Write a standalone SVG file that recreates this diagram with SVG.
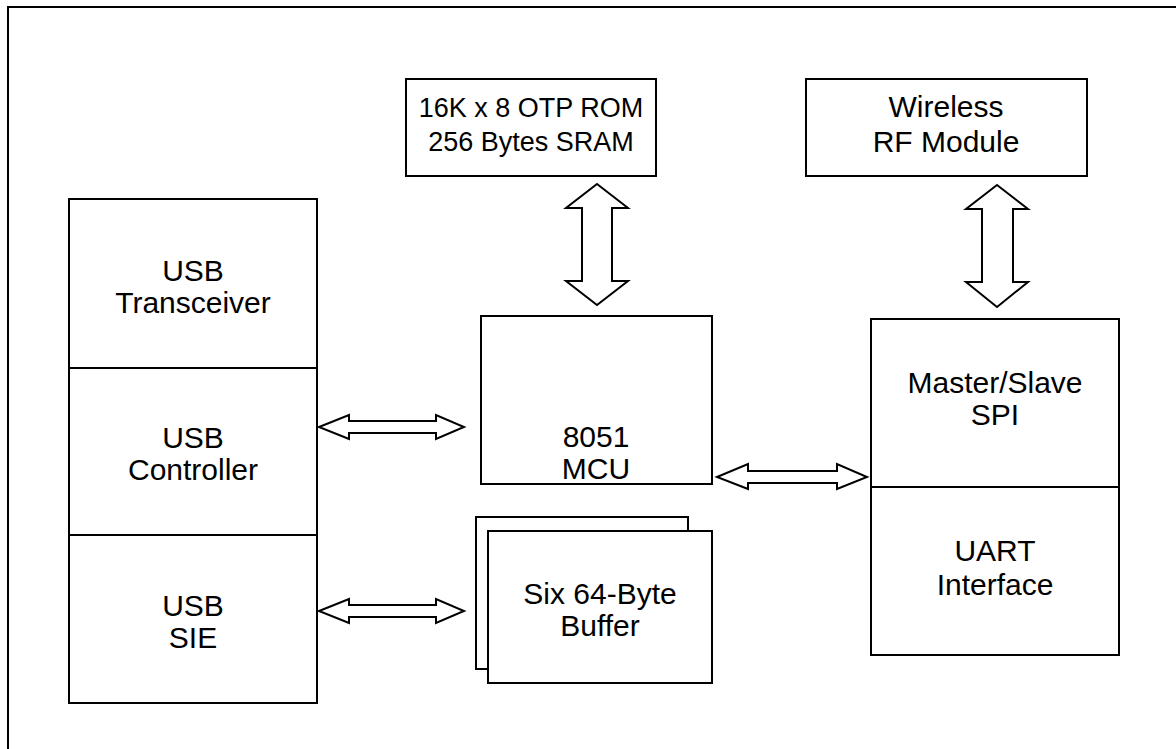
<svg xmlns="http://www.w3.org/2000/svg" width="1176" height="749" viewBox="0 0 1176 749">
<style>
.box{fill:#fff;stroke:#000;stroke-width:2}
.arr{fill:#fff;stroke:#000;stroke-width:2;stroke-linejoin:miter}
text{font-family:"Liberation Sans",Arial,sans-serif;font-size:30px;fill:#000;text-anchor:middle}
</style>
<rect x="0" y="0" width="1176" height="749" fill="#fff"/>
<rect id="frame" x="8" y="7" width="1200" height="800" fill="none" stroke="#000" stroke-width="2"/>
<g id="rom"><rect class="box" x="406" y="79" width="250" height="97"/><text x="531" y="117" style="font-size:27px">16K x 8 OTP ROM</text><text x="531" y="151" style="font-size:27px">256 Bytes SRAM</text></g>
<g id="rf"><rect class="box" x="806" y="79" width="281" height="97"/><text x="946" y="117">Wireless</text><text x="946" y="152">RF Module</text></g>
<g id="usb-transceiver"><rect class="box" x="69" y="199" width="248" height="169"/><text x="193" y="281">USB</text><text x="193" y="313">Transceiver</text></g>
<g id="usb-controller"><rect class="box" x="69" y="368" width="248" height="167"/><text x="193" y="448">USB</text><text x="193" y="480">Controller</text></g>
<g id="usb-sie"><rect class="box" x="69" y="535" width="248" height="168"/><text x="193" y="616">USB</text><text x="193" y="648">SIE</text></g>
<g id="mcu"><rect class="box" x="481" y="316" width="231" height="168"/><text x="596" y="447">8051</text><text x="596" y="479">MCU</text></g>
<g id="buffer"><rect class="box" x="476" y="517" width="212" height="152"/><rect class="box" x="488" y="531" width="224" height="152"/><text x="600" y="604">Six 64-Byte</text><text x="600" y="636">Buffer</text></g>
<g id="spi"><rect class="box" x="871" y="319" width="248" height="168"/><text x="995" y="393">Master/Slave</text><text x="995" y="425">SPI</text></g>
<g id="uart"><rect class="box" x="871" y="487" width="248" height="168"/><text x="995" y="561">UART</text><text x="995" y="595">Interface</text></g>
<g id="connectors">
<polygon class="arr" points="597,184 628,208 612,208 612,281 628,281 597,305 566,281 582,281 582,208 566,208"/>
<polygon class="arr" points="997,185 1028,209 1013,209 1013,282 1028,282 997,307 966,282 982,282 982,209 966,209"/>
<polygon class="arr" points="319,427 349,415 349,421 436,421 436,415 464,427 436,439 436,433 349,433 349,439"/>
<polygon class="arr" points="319,611 349,599 349,605 436,605 436,599 464,611 436,623 436,617 349,617 349,623"/>
<polygon class="arr" points="717,477 748,464 748,471 837,471 837,464 867,477 837,489 837,483 748,483 748,489"/>
</g>
</svg>
